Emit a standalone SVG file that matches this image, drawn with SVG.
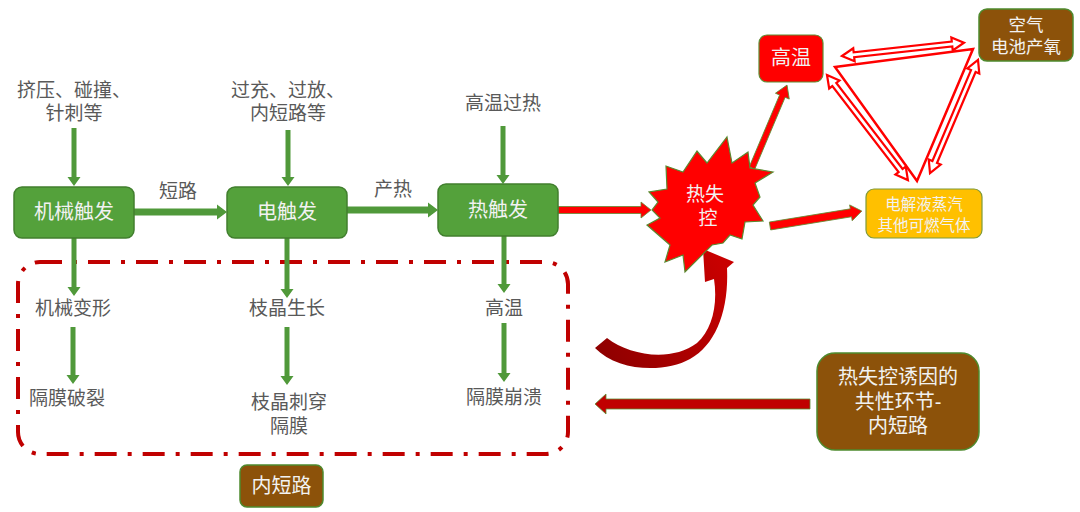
<svg xmlns="http://www.w3.org/2000/svg" width="1080" height="512" viewBox="0 0 1080 512">
<defs>
<style>
text{font-family:"Liberation Sans","Noto Sans CJK SC",sans-serif;text-anchor:middle;dominant-baseline:central}
.lbl{fill:#595959;font-size:19px}
.btxt{fill:#F2F2F2;font-size:20px}
.s19{font-size:19px}
.s175{font-size:17.5px}
.s155{font-size:15.5px}
.gbox{fill:#54A13B;stroke:#417F2E;stroke-width:1.5}
.brown{fill:#8C520A;stroke:#4E8A2E;stroke-width:1.5}
.garrow{fill:#50993A}
.rarrow{fill:#FF0000;stroke:#5E8E33;stroke-width:0.8}
.hollow{fill:#FFFFFF;stroke:#FF0000;stroke-width:2.2;stroke-linejoin:miter}
</style>
<linearGradient id="curveGrad" gradientUnits="userSpaceOnUse" x1="595" y1="350" x2="725" y2="270">
<stop offset="0" stop-color="#8E0000"/>
<stop offset="1" stop-color="#C80000"/>
</linearGradient>
</defs>
<rect width="1080" height="512" fill="#FFFFFF"/>

<!-- dashed internal short circuit region -->
<g id="region">
<rect x="18" y="262" width="550" height="192" rx="22" ry="22" fill="none" stroke="#C00000" stroke-width="4" stroke-dasharray="22 11 4 11"/>
</g>

<g id="connectors">
<!-- green vertical arrows into trigger boxes -->
<path class="garrow" d="M71.5,128 L76.5,128 L76.5,177 L80.5,177 L74,186 L67.5,177 L71.5,177 Z"/>
<path class="garrow" d="M285.5,130 L290.5,130 L290.5,177 L294.5,177 L288,186 L281.5,177 L285.5,177 Z"/>
<path class="garrow" d="M500.5,126 L505.5,126 L505.5,175 L509.5,175 L503,184 L496.5,175 L500.5,175 Z"/>
<!-- green down arrows from boxes -->
<path class="garrow" d="M71.5,238 L76.5,238 L76.5,287 L80.5,287 L74,296 L67.5,287 L71.5,287 Z"/>
<path class="garrow" d="M284.5,238 L289.5,238 L289.5,289 L293.5,289 L287,298 L280.5,289 L284.5,289 Z"/>
<path class="garrow" d="M501.5,236 L506.5,236 L506.5,284 L510.5,284 L504,293 L497.5,284 L501.5,284 Z"/>
<path class="garrow" d="M70.5,327 L75.5,327 L75.5,375 L79.5,375 L73,384 L66.5,375 L70.5,375 Z"/>
<path class="garrow" d="M284.5,327 L289.5,327 L289.5,376 L293.5,376 L287,385 L280.5,376 L284.5,376 Z"/>
<path class="garrow" d="M501.5,323 L506.5,323 L506.5,373 L510.5,373 L504,382 L497.5,373 L501.5,373 Z"/>
<!-- green horizontal arrows -->
<path class="garrow" d="M134,208.5 L217,208.5 L217,204.5 L227,212 L217,219.5 L217,215.5 L134,215.5 Z"/>
<path class="garrow" d="M347,206.5 L428,206.5 L428,202.5 L438,210 L428,217.5 L428,213.5 L347,213.5 Z"/>
<!-- red arrow into thermal runaway -->
<path class="rarrow" d="M558,206.5 L641,206.5 L641,202 L651,210 L641,218 L641,213.5 L558,213.5 Z"/>
<!-- red arrow to high temperature -->
<g transform="translate(752,168) rotate(-67.1)">
<path class="rarrow" d="M0,-3 L78,-3 L78,-7.5 L90,0 L78,7.5 L78,3 L0,3 Z"/>
</g>
<!-- red arrow to electrolyte vapour -->
<g transform="translate(770,226) rotate(-9.26)">
<path class="rarrow" d="M0,-4 L82,-4 L82,-8 L93,0 L82,8 L82,4 L0,4 Z"/>
</g>
<!-- triangle cycle -->
<polygon points="835,67 973,49 917,181" fill="none" stroke="#FF0000" stroke-width="2.5" stroke-linejoin="miter"/>
<g transform="translate(842,56) rotate(-6.2)">
<path class="hollow" d="M0,0 L12,-6.5 L12,-2.5 L110.7,-2.5 L110.7,-6.5 L122.7,0 L110.7,6.5 L110.7,2.5 L12,2.5 L12,6.5 Z"/>
</g>
<g transform="translate(827,75) rotate(52.4)">
<path class="hollow" d="M0,0 L12,-6.5 L12,-2.5 L120.6,-2.5 L120.6,-6.5 L132.6,0 L120.6,6.5 L120.6,2.5 L12,2.5 L12,6.5 Z"/>
</g>
<g transform="translate(978,60) rotate(113)">
<path class="hollow" d="M0,0 L12,-6.5 L12,-2.5 L110.8,-2.5 L110.8,-6.5 L122.8,0 L110.8,6.5 L110.8,2.5 L12,2.5 L12,6.5 Z"/>
</g>
<!-- curved feedback arrow -->
<path fill="url(#curveGrad)" d="M607,338 C630,356 672,362 697,343 C712,330 718,305 714,279 L705,282 L703,249 L734,262 L727,268 C729,310 716,345 690,359 C665,373 618,372 595,348 Z"/>
<!-- big arrow from common link box -->
<path fill="#C00000" stroke="#5E8E33" stroke-width="0.8" d="M810,399 L606,399 L606,394 L595,404 L606,414 L606,409 L810,409 Z"/>
</g>

<!-- nodes -->
<g id="n-top1"><text class="lbl" x="74" y="90">挤压、碰撞、</text><text class="lbl" x="74" y="113">针刺等</text></g>
<g id="n-top2"><text class="lbl" x="288" y="90">过充、过放、</text><text class="lbl" x="288" y="113">内短路等</text></g>
<g id="n-top3"><text class="lbl" x="503" y="103">高温过热</text></g>

<g id="n-mech"><rect class="gbox" x="14" y="187" width="120" height="51" rx="8"/><text class="btxt" x="74" y="212">机械触发</text></g>
<g id="n-elec"><rect class="gbox" x="227" y="187" width="120" height="51" rx="8"/><text class="btxt" x="287" y="212">电触发</text></g>
<g id="n-heat"><rect class="gbox" x="438" y="184" width="120" height="52" rx="8"/><text class="btxt" x="498" y="210">热触发</text></g>

<g id="l-short"><text class="lbl" x="178" y="191">短路</text></g>
<g id="l-heatgen"><text class="lbl" x="393" y="189">产热</text></g>

<g id="n-mdeform"><text class="lbl" x="73" y="308">机械变形</text></g>
<g id="n-mbreak"><text class="lbl" x="67" y="398">隔膜破裂</text></g>
<g id="n-dgrow"><text class="lbl" x="287" y="308">枝晶生长</text></g>
<g id="n-dpierce"><text class="lbl" x="289" y="402">枝晶刺穿</text><text class="lbl" x="289" y="426">隔膜</text></g>
<g id="n-ht"><text class="lbl" x="504" y="308">高温</text></g>
<g id="n-collapse"><text class="lbl" x="504" y="397">隔膜崩溃</text></g>

<g id="n-isc"><rect class="brown" x="240" y="465" width="83" height="42" rx="7"/><text class="btxt" x="281.5" y="486">内短路</text></g>

<g id="n-runaway">
<polygon fill="#FF0000" stroke="#5A8A30" stroke-width="1.2" stroke-linejoin="miter" points="727,137 732,163 748,152 750,168 773,172 755,183 760,197 753,205 763,221 745,222 742,239 730,235 723,243 712,245 685,272 683,255 665,262 670,245 647,225 660,218 652,210 658,202 649,192 667,189 666,166 683,172 697,151 707,163"/>
<text class="btxt s19" x="705" y="194">热失</text>
<text class="btxt s19" x="708" y="218">控</text>
</g>

<g id="n-hightemp"><rect x="759" y="35" width="64" height="47" rx="8" fill="#FF0000" stroke="#5E8E33" stroke-width="1.2"/><text class="btxt" x="791" y="58">高温</text></g>
<g id="n-air"><rect class="brown" x="979" y="9" width="94" height="52" rx="8"/><text class="btxt s175" x="1026" y="25">空气</text><text class="btxt s175" x="1026" y="47">电池产氧</text></g>
<g id="n-vapour"><rect x="866" y="189" width="116" height="49" rx="8" fill="#FFC000" stroke="#7E9A3A" stroke-width="1.2"/><text class="btxt s155" x="924" y="204">电解液蒸汽</text><text class="btxt s155" x="924" y="225">其他可燃气体</text></g>

<g id="n-common"><rect class="brown" x="817" y="353" width="162" height="97" rx="18"/><text class="btxt" x="898" y="377">热失控诱因的</text><text class="btxt" x="898" y="402">共性环节-</text><text class="btxt" x="898" y="426">内短路</text></g>
</svg>
